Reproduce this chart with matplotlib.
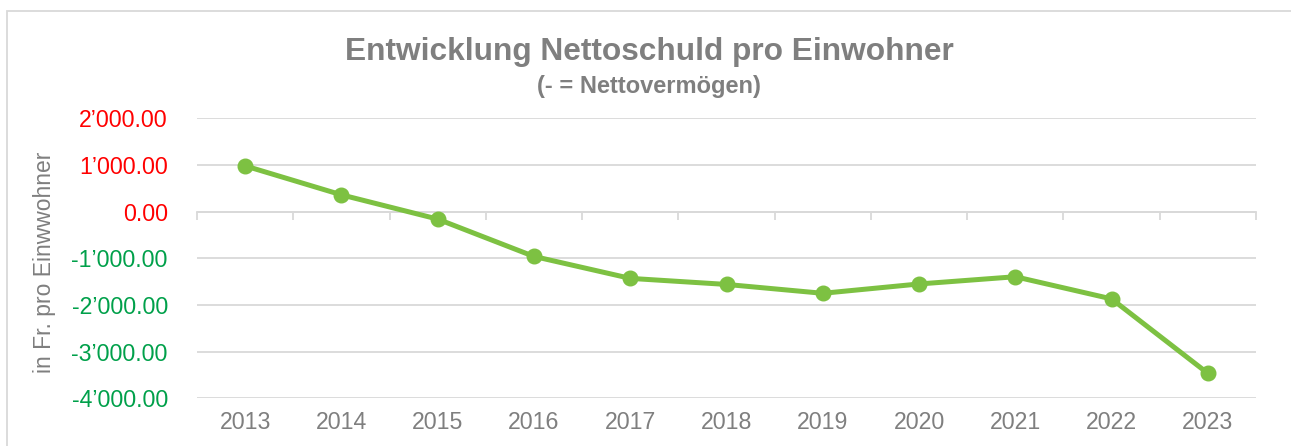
import matplotlib
matplotlib.use('Agg')
import matplotlib.pyplot as plt
from matplotlib.patches import Rectangle

plt.rcParams['font.family'] = ['Liberation Sans', 'DejaVu Sans']

# Daten
jahre = ['2013', '2014', '2015', '2016', '2017', '2018', '2019', '2020', '2021', '2022', '2023']
nettoschuld = [980, 360, -160, -960, -1430, -1560, -1750, -1550, -1395, -1870, -3465]
y_ticks = [2000, 1000, 0, -1000, -2000, -3000, -4000]

GRAU = '#7F7F7F'
GRUEN_LINIE = '#7DC142'
ROT = '#FF0000'
GRUEN_TEXT = '#00A04A'


def fmt(v):
    # Tausendertrennzeichen als Apostroph
    return f"{v:,.2f}".replace(',', '\u2019')


fig = plt.figure(figsize=(12.91, 4.46), dpi=100)
ax = fig.add_axes([197 / 1291, 1 - 398.3 / 446, (1256 - 197) / 1291, (398.3 - 118.3) / 446])

x = list(range(len(jahre)))
ax.plot(x, nettoschuld, color=GRUEN_LINIE, lw=3.6, marker='o', ms=10.5, zorder=3)

ax.set_xlim(-0.5, len(jahre) - 0.5)
ax.set_ylim(-4000, 2000)

# Gitterlinien
ax.set_yticks(y_ticks)
ax.set_yticklabels([fmt(v) for v in y_ticks])
for lbl, v in zip(ax.get_yticklabels(), y_ticks):
    lbl.set_color(ROT if v >= 0 else GRUEN_TEXT)
ax.tick_params(axis='y', length=0, labelsize=16.7, pad=21)
ax.yaxis.grid(True, color='#D9D9D9', lw=1.3, zorder=0)
ax.set_axisbelow(True)

for s in ['top', 'right', 'left']:
    ax.spines[s].set_visible(False)

# Kategorienachse auf 0
ax.spines['bottom'].set_position(('data', 0))
ax.spines['bottom'].set_color('#D9D9D9')
ax.spines['bottom'].set_linewidth(1.3)
ax.set_xticks([i - 0.5 for i in range(len(jahre) + 1)])
ax.set_xticklabels([])
ax.tick_params(axis='x', length=6, width=1.3, color='#D9D9D9', direction='out')

# Jahreszahlen unten
sec = ax.secondary_xaxis('bottom')
sec.set_xticks(x)
sec.set_xticklabels(jahre)
sec.tick_params(length=0, labelsize=16.7, labelcolor=GRAU, pad=9)
sec.spines['bottom'].set_visible(False)

# Titel
fig.text(0.503, 1 - 60 / 446, 'Entwicklung Nettoschuld pro Einwohner', ha='center', va='baseline',
         fontsize=22.8, fontweight='bold', color=GRAU)
fig.text(0.503, 1 - 93 / 446, '(- = Nettovermögen)', ha='center', va='baseline',
         fontsize=17, fontweight='bold', color=GRAU)

fig.text(45 / 1291, 1 - 262 / 446, 'in Fr. pro Einwwohner', rotation=90, ha='center', va='center',
         fontsize=16.5, color=GRAU)

# Rahmen
fig.patches.append(Rectangle((6.5 / 1291, -0.1), 1.2, 1 - 10.7 / 446 + 0.1, transform=fig.transFigure,
                             fill=False, edgecolor='#D9D9D9', lw=1.3))

fig.savefig('out.png', dpi=100)
